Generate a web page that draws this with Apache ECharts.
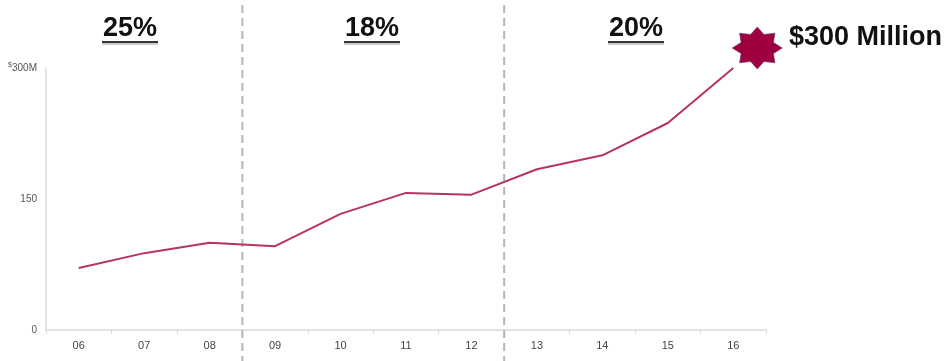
<!DOCTYPE html>
<html><head><meta charset="utf-8">
<script src="https://cdn.jsdelivr.net/npm/echarts@6/dist/echarts.min.js"></script>
<style>html,body{margin:0;padding:0;background:#fff}#c{width:950px;height:361px}</style>
</head><body><div id="c"></div>
<script>
const categories = ['06','07','08','09','10','11','12','13','14','15','16'];
const revenue = [71, 88, 100, 96, 133, 157, 155, 184, 200, 237, 300];
const yTicks = [0, 150, 300];
const growthLabels = ['25%', '18%', '20%'];
const periodBreaks = [[2, 3], [6, 7]]; // boundaries between categories
const targetLabel = '$300 Million';

function starPath(n, rIn) {
  let d = '';
  for (let i = 0; i < n * 2; i++) {
    const r = i % 2 === 0 ? 1 : rIn;
    const a = -Math.PI / 2 + i * Math.PI / n;
    const x = (50 + 50 * r * Math.cos(a)).toFixed(2);
    const y = (50 + 50 * r * Math.sin(a)).toFixed(2);
    d += (i === 0 ? 'M' : 'L') + x + ' ' + y + ' ';
  }
  return 'path://' + d + 'Z';
}

const chart = echarts.init(document.getElementById('c'), null, {renderer: 'canvas'});
chart.setOption({
  animation: false,
  grid: {left: 46, right: 184, top: 68, bottom: 31, containLabel: false},
  xAxis: {
    type: 'category', data: categories, boundaryGap: true,
    axisLine: {lineStyle: {color: '#dadada', width: 1.5}},
    axisTick: {show: true, length: 4, lineStyle: {color: '#dadada'}},
    axisLabel: {color: '#444', fontSize: 11, fontFamily: 'Liberation Sans, Arial', margin: 10}
  },
  yAxis: {
    type: 'value', min: 0, max: 300, interval: 150,
    axisLine: {show: true, lineStyle: {color: '#dadada', width: 1.5}},
    axisTick: {show: false},
    splitLine: {show: false},
    axisLabel: {
      color: '#555', fontSize: 10, fontFamily: 'Liberation Sans, Arial', margin: 9,
      formatter: v => v === yTicks[2] ? '{s|$}' + v + 'M' : String(v),
      rich: {s: {fontSize: 7, verticalAlign: 'top', color: '#555', padding: [0,0,6,0]}}
    }
  },
  series: [{
    type: 'line', data: revenue, symbol: 'none', smooth: false,
    lineStyle: {color: '#b8335f', width: 2},
    markPoint: {
      symbol: starPath(8, 0.7), symbolSize: [50, 42], symbolOffset: [24, -20],
      itemStyle: {color: '#9e0040', borderColor: '#5b3a7a', borderWidth: 0.6},
      label: {show: false},
      data: [{coord: [categories.length - 1, revenue[revenue.length - 1]]}]
    }
  }]
});

const graphics = [];
periodBreaks.forEach(b => {
  const x = (chart.convertToPixel({xAxisIndex: 0}, categories[b[0]]) + chart.convertToPixel({xAxisIndex: 0}, categories[b[1]])) / 2;
  graphics.push({type: 'line', shape: {x1: x, y1: 5, x2: x, y2: 361},
    style: {stroke: '#b5b5b5', lineWidth: 2, lineDash: [8, 5]}, z: 1});
});
const labelX = [130, 372, 636];
growthLabels.forEach((t, i) => {
  graphics.push({type: 'text', x: labelX[i], y: 29,
    style: {text: t, font: 'bold 27px "Liberation Sans", Arial', fill: '#111', align: 'center', verticalAlign: 'middle'}});
  graphics.push({type: 'line', shape: {x1: labelX[i] - 28, y1: 42, x2: labelX[i] + 28, y2: 42},
    style: {stroke: '#333', lineWidth: 2}});
  graphics.push({type: 'line', shape: {x1: labelX[i] - 28, y1: 44, x2: labelX[i] + 28, y2: 44},
    style: {stroke: '#999', lineWidth: 1}});
});
graphics.push({type: 'text', x: 789, y: 38,
  style: {text: targetLabel, font: 'bold 27px "Liberation Sans", Arial', fill: '#111', align: 'left', verticalAlign: 'middle'}});
chart.setOption({graphic: graphics});
</script>
</body></html>
